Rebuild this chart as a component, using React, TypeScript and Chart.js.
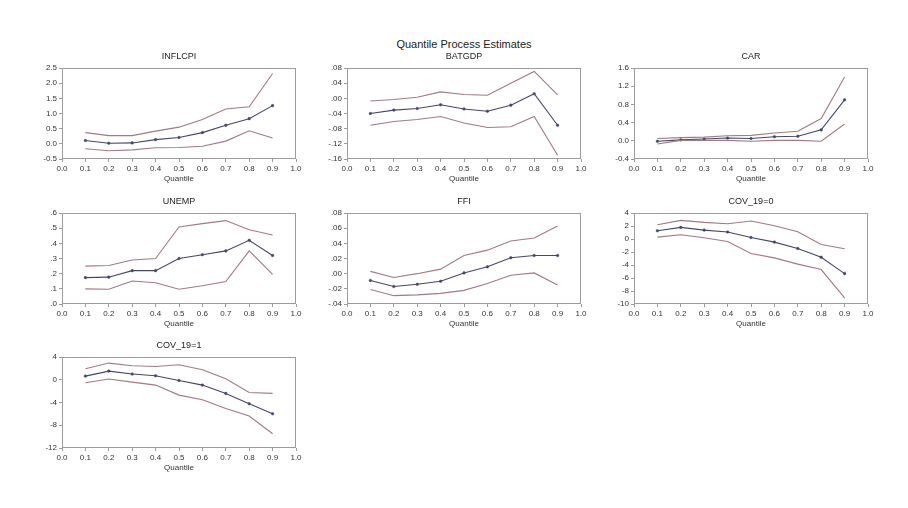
import React, { useEffect, useRef } from "react";
import { Chart, registerables } from "chart.js";

Chart.register(...registerables);

const FONT = "'Liberation Sans', Arial, sans-serif";

// ---- data ----
const quantiles = [0.1, 0.2, 0.3, 0.4, 0.5, 0.6, 0.7, 0.8, 0.9];
const mainTitle = "Quantile Process Estimates";
const xAxisTitle = "Quantile";

const inflcpiUpper = [0.37, 0.27, 0.27, 0.42, 0.55, 0.8, 1.15, 1.22, 2.32];
const inflcpiMid = [0.11, 0.02, 0.03, 0.14, 0.21, 0.37, 0.61, 0.83, 1.26];
const inflcpiLower = [-0.16, -0.23, -0.2, -0.13, -0.12, -0.08, 0.09, 0.43, 0.19];

const batgdpUpper = [-0.007, -0.003, 0.003, 0.017, 0.01, 0.008, 0.04, 0.071, 0.009];
const batgdpMid = [-0.04, -0.031, -0.027, -0.017, -0.028, -0.034, -0.018, 0.012, -0.071];
const batgdpLower = [-0.071, -0.061, -0.056, -0.048, -0.065, -0.077, -0.075, -0.048, -0.15];

const carUpper = [0.05, 0.07, 0.08, 0.11, 0.12, 0.17, 0.21, 0.49, 1.4];
const carMid = [-0.01, 0.02, 0.04, 0.06, 0.05, 0.09, 0.1, 0.24, 0.9];
const carLower = [-0.07, 0.01, 0.01, 0.01, -0.01, 0.01, 0.01, -0.01, 0.37];

const unempUpper = [0.25, 0.254, 0.29, 0.3, 0.508, 0.53, 0.55, 0.49, 0.455];
const unempMid = [0.174, 0.177, 0.22, 0.22, 0.3, 0.325, 0.35, 0.42, 0.32];
const unempLower = [0.1, 0.097, 0.152, 0.14, 0.097, 0.12, 0.148, 0.35, 0.195];

const ffiUpper = [0.003, -0.005, 0.0, 0.006, 0.024, 0.031, 0.043, 0.047, 0.063];
const ffiMid = [-0.009, -0.017, -0.014, -0.01, 0.001, 0.009, 0.021, 0.024, 0.024];
const ffiLower = [-0.021, -0.029, -0.028, -0.026, -0.022, -0.013, -0.002, 0.001, -0.015];

const cov0Upper = [2.2, 2.87, 2.56, 2.35, 2.76, 2.04, 1.12, -0.84, -1.51];
const cov0Mid = [1.27, 1.79, 1.37, 1.07, 0.24, -0.48, -1.46, -2.8, -5.32];
const cov0Lower = [0.29, 0.65, 0.19, -0.38, -2.23, -2.9, -3.87, -4.7, -9.07];

const cov1Upper = [1.93, 2.93, 2.46, 2.34, 2.64, 1.76, 0.18, -2.23, -2.4];
const cov1Mid = [0.64, 1.52, 1.0, 0.7, -0.12, -0.94, -2.4, -4.22, -5.98];
const cov1Lower = [-0.53, 0.12, -0.41, -0.94, -2.7, -3.5, -5.04, -6.39, -9.5];

// ---- formatting ----
const fmt1 = (v: number) => v.toFixed(1);
const fmtInt = (v: number) => Math.round(v).toString();
const fmtNoLead = (d: number) => (v: number) => {
  const s = (Math.abs(v) < 1e-9 ? 0 : v).toFixed(d);
  return s.replace(/^(-?)0\./, "$1.");
};

type PanelDef = {
  title: string;
  upper: number[];
  mid: number[];
  lower: number[];
  yMin: number;
  yMax: number;
  yStep: number;
  fmt: (v: number) => string;
  left: number;
  top: number;
};

const panels: PanelDef[] = [
  { title: "INFLCPI", upper: inflcpiUpper, mid: inflcpiMid, lower: inflcpiLower, yMin: -0.5, yMax: 2.5, yStep: 0.5, fmt: fmt1, left: 62, top: 68 },
  { title: "BATGDP", upper: batgdpUpper, mid: batgdpMid, lower: batgdpLower, yMin: -0.16, yMax: 0.08, yStep: 0.04, fmt: fmtNoLead(2), left: 347, top: 68 },
  { title: "CAR", upper: carUpper, mid: carMid, lower: carLower, yMin: -0.4, yMax: 1.6, yStep: 0.4, fmt: fmt1, left: 634, top: 68 },
  { title: "UNEMP", upper: unempUpper, mid: unempMid, lower: unempLower, yMin: 0, yMax: 0.6, yStep: 0.1, fmt: fmtNoLead(1), left: 62, top: 213 },
  { title: "FFI", upper: ffiUpper, mid: ffiMid, lower: ffiLower, yMin: -0.04, yMax: 0.08, yStep: 0.02, fmt: fmtNoLead(2), left: 347, top: 213 },
  { title: "COV_19=0", upper: cov0Upper, mid: cov0Mid, lower: cov0Lower, yMin: -10, yMax: 4, yStep: 2, fmt: fmtInt, left: 634, top: 213 },
  { title: "COV_19=1", upper: cov1Upper, mid: cov1Mid, lower: cov1Lower, yMin: -12, yMax: 4, yStep: 4, fmt: fmtInt, left: 62, top: 357 },
];

const PLOT_W = 234;
const PLOT_H = 91;
const Y_AXIS_W = 36;
const TITLE_H = 16;
const X_AXIS_H = 24;
const PAD_R = 8;

const BOUND_COLOR = "#a27a80";
const MID_COLOR = "#45466a";
const FRAME_COLOR = "#9c9c9c";
const TEXT_COLOR = "#333333";

const framePlugin = {
  id: "frame",
  afterDatasetsDraw(chart: any) {
    const { ctx, chartArea } = chart;
    const l = Math.round(chartArea.left) + 0.5;
    const t = Math.round(chartArea.top) + 0.5;
    const r = Math.round(chartArea.right) - 0.5;
    const b = Math.round(chartArea.bottom) - 0.5;
    ctx.save();
    ctx.strokeStyle = FRAME_COLOR;
    ctx.lineWidth = 1;
    ctx.strokeRect(l, t, r - l, b - t);
    ctx.restore();
  },
};

function Panel({ p }: { p: PanelDef }) {
  const ref = useRef<HTMLCanvasElement | null>(null);
  const width = Y_AXIS_W + PLOT_W + PAD_R;
  const height = TITLE_H + PLOT_H + X_AXIS_H;

  useEffect(() => {
    if (!ref.current) return;
    const toPts = (arr: number[]) => quantiles.map((q, i) => ({ x: q, y: arr[i] }));
    const chart = new Chart(ref.current, {
      type: "line",
      data: {
        datasets: [
          { data: toPts(p.upper), borderColor: BOUND_COLOR, borderWidth: 1.1, pointRadius: 0 },
          { data: toPts(p.lower), borderColor: BOUND_COLOR, borderWidth: 1.1, pointRadius: 0 },
          {
            data: toPts(p.mid),
            borderColor: MID_COLOR,
            borderWidth: 1.1,
            pointRadius: 1.3,
            pointBackgroundColor: MID_COLOR,
            pointBorderColor: MID_COLOR,
            pointBorderWidth: 0.5,
          },
        ],
      },
      options: {
        animation: false,
        responsive: false,
        maintainAspectRatio: false,
        layout: { padding: { left: 0, right: PAD_R, top: 0, bottom: 0 } },
        elements: { line: { tension: 0 } },
        plugins: {
          legend: { display: false },
          tooltip: { enabled: false },
          title: {
            display: true,
            text: p.title,
            fullSize: false,
            color: "#222222",
            font: { family: FONT, size: 9, lineHeight: 1, weight: "normal" },
            padding: { top: 0, bottom: TITLE_H - 9 },
          },
        },
        scales: {
          x: {
            type: "linear",
            min: 0,
            max: 1,
            afterFit: (s: any) => {
              s.height = X_AXIS_H;
            },
            ticks: {
              stepSize: 0.1,
              autoSkip: false,
              maxRotation: 0,
              padding: 2,
              color: TEXT_COLOR,
              font: { family: FONT, size: 8 },
              callback: (v: any) => Number(v).toFixed(1),
            },
            grid: { drawOnChartArea: false, drawTicks: true, tickLength: 3, color: FRAME_COLOR },
            border: { display: false },
            title: {
              display: true,
              text: xAxisTitle,
              color: TEXT_COLOR,
              font: { family: FONT, size: 8, lineHeight: 1 },
              padding: { top: 0, bottom: 0 },
            },
          },
          y: {
            type: "linear",
            min: p.yMin,
            max: p.yMax,
            afterFit: (s: any) => {
              s.width = Y_AXIS_W;
            },
            ticks: {
              stepSize: p.yStep,
              autoSkip: false,
              padding: 2,
              color: TEXT_COLOR,
              font: { family: FONT, size: 8 },
              callback: (v: any) => p.fmt(Number(v)),
            },
            grid: { drawOnChartArea: false, drawTicks: true, tickLength: 3, color: FRAME_COLOR },
            border: { display: false },
          },
        },
      },
      plugins: [framePlugin],
    } as any);
    return () => chart.destroy();
  }, [p]);

  return (
    <canvas
      ref={ref}
      width={width}
      height={height}
      style={{
        position: "absolute",
        left: p.left - Y_AXIS_W,
        top: p.top - TITLE_H,
        width,
        height,
      }}
    />
  );
}

export default function App() {
  return (
    <div style={{ position: "absolute", left: 0, top: 0, width: 908, height: 508, background: "#ffffff" }}>
      <div
        style={{
          position: "absolute",
          left: 464,
          top: 44,
          transform: "translate(-50%, -50%)",
          fontFamily: FONT,
          fontSize: 11,
          color: "#222222",
          whiteSpace: "nowrap",
        }}
      >
        {mainTitle}
      </div>
      {panels.map((p) => (
        <Panel key={p.title} p={p} />
      ))}
    </div>
  );
}
